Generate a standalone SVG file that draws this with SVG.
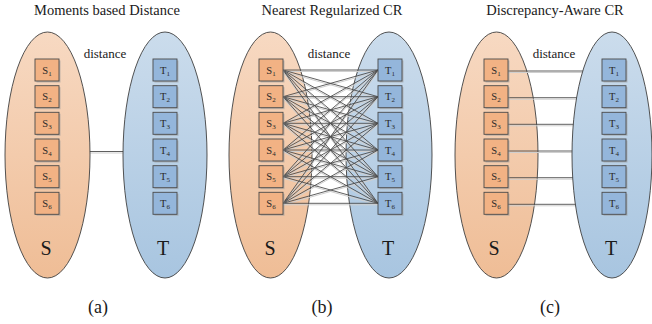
<svg xmlns="http://www.w3.org/2000/svg" width="652" height="324" viewBox="0 0 652 324">
<defs>
<linearGradient id="go" x1="0" y1="0" x2="0" y2="1"><stop offset="0" stop-color="#f7d9c2"/><stop offset="1" stop-color="#efbd96"/></linearGradient>
<linearGradient id="gb" x1="0" y1="0" x2="0" y2="1"><stop offset="0" stop-color="#cbdcec"/><stop offset="1" stop-color="#a8c5e0"/></linearGradient>
</defs>
<style>
.eo{fill:url(#go);stroke:#3f3f3f;stroke-width:0.9}
.eb{fill:url(#gb);stroke:#3f3f3f;stroke-width:0.9}
.bs{fill:#f2b284;stroke:#4a4a4a;stroke-width:0.9}
.bt{fill:#94b6db;stroke:#4a4a4a;stroke-width:0.9}
.shd{fill:#9a9a9a;opacity:0.55}
.ln{fill:none;stroke:#4d4d4d;stroke-width:0.9}
.sh{fill:none;stroke:#cfcfcf;stroke-width:1}
.tt{font-family:'Liberation Serif','DejaVu Serif',serif;fill:#1a1a1a;text-anchor:middle}
.ti{font-size:14.5px}
.di{font-size:13px}
.big{font-size:20px}
.cap{font-size:18px}
.bx{font-size:10.5px;fill:#2a2a2a}
.sb{font-size:7px}
</style>

<g font-family="Liberation Serif, DejaVu Serif, serif">
<text class="tt ti" x="107" y="14.5">Moments based Distance</text>
<text class="tt ti" x="332" y="14.5">Nearest Regularized CR</text>
<text class="tt ti" x="555" y="14.5">Discrepancy-Aware CR</text>

<g id="b-S"><ellipse class="eo" cx="270.5" cy="155" rx="41.5" ry="123"/><text class="tt big" x="270" y="255">S</text></g>
<g id="b-T"><ellipse class="eb" cx="389" cy="155" rx="43" ry="123"/><text class="tt big" x="388" y="255">T</text></g>
<g id="c-S"><ellipse class="eo" cx="496.5" cy="155" rx="41.5" ry="123"/><text class="tt big" x="494" y="255">S</text></g>

<g id="connectors">
<path class="sh" transform="translate(0,1.5)" d="M70 151.5L140 151.5"/>
<path class="ln" d="M70 151.5L140 151.5"/>
<g transform="translate(0,1.5)">
<path class="sh" d="M283 70L378 70M283 70L378 96.7M283 70L378 123.3M283 70L378 150M283 70L378 176.7M283 70L378 203.3"/>
<path class="sh" d="M283 96.7L378 70M283 96.7L378 96.7M283 96.7L378 123.3M283 96.7L378 150M283 96.7L378 176.7M283 96.7L378 203.3"/>
<path class="sh" d="M283 123.3L378 70M283 123.3L378 96.7M283 123.3L378 123.3M283 123.3L378 150M283 123.3L378 176.7M283 123.3L378 203.3"/>
<path class="sh" d="M283 150L378 70M283 150L378 96.7M283 150L378 123.3M283 150L378 150M283 150L378 176.7M283 150L378 203.3"/>
<path class="sh" d="M283 176.7L378 70M283 176.7L378 96.7M283 176.7L378 123.3M283 176.7L378 150M283 176.7L378 176.7M283 176.7L378 203.3"/>
<path class="sh" d="M283 203.3L378 70M283 203.3L378 96.7M283 203.3L378 123.3M283 203.3L378 150M283 203.3L378 176.7M283 203.3L378 203.3"/>
</g>
<path class="ln" d="M283 70L378 70M283 70L378 96.7M283 70L378 123.3M283 70L378 150M283 70L378 176.7M283 70L378 203.3"/>
<path class="ln" d="M283 96.7L378 70M283 96.7L378 96.7M283 96.7L378 123.3M283 96.7L378 150M283 96.7L378 176.7M283 96.7L378 203.3"/>
<path class="ln" d="M283 123.3L378 70M283 123.3L378 96.7M283 123.3L378 123.3M283 123.3L378 150M283 123.3L378 176.7M283 123.3L378 203.3"/>
<path class="ln" d="M283 150L378 70M283 150L378 96.7M283 150L378 123.3M283 150L378 150M283 150L378 176.7M283 150L378 203.3"/>
<path class="ln" d="M283 176.7L378 70M283 176.7L378 96.7M283 176.7L378 123.3M283 176.7L378 150M283 176.7L378 176.7M283 176.7L378 203.3"/>
<path class="ln" d="M283 203.3L378 70M283 203.3L378 96.7M283 203.3L378 123.3M283 203.3L378 150M283 203.3L378 176.7M283 203.3L378 203.3"/>
<path class="sh" transform="translate(0,1.5)" d="M508 71L600 71M508 97.7L600 97.7M508 124.3L600 124.3M508 151L600 151M508 177.7L600 177.7M508 204.3L600 204.3"/>
<path class="ln" d="M508 71L600 71M508 97.7L600 97.7M508 124.3L600 124.3M508 151L600 151M508 177.7L600 177.7M508 204.3L600 204.3"/>
</g>

<g id="a-S"><ellipse class="eo" cx="47.5" cy="155" rx="42.5" ry="123"/><text class="tt big" x="46" y="255">S</text></g>
<g id="a-T"><ellipse class="eb" cx="165" cy="155" rx="42" ry="123"/><text class="tt big" x="163" y="255">T</text></g>
<g id="c-T"><ellipse class="eb" cx="612" cy="155" rx="40" ry="123"/><text class="tt big" x="611" y="255">T</text></g>

<text class="tt di" x="105" y="58">distance</text>
<text class="tt di" x="329" y="58">distance</text>
<text class="tt di" x="554" y="58">distance</text>

<g id="a-S1"><rect class="shd" x="36.5" y="60.5" width="24" height="22"/><rect class="bs" x="35" y="59" width="24" height="22"/><text class="tt bx" x="47" y="73.5">S<tspan class="sb" dy="2">1</tspan></text></g>
<g id="a-S2"><rect class="shd" x="36.5" y="87.2" width="24" height="22"/><rect class="bs" x="35" y="85.7" width="24" height="22"/><text class="tt bx" x="47" y="100.2">S<tspan class="sb" dy="2">2</tspan></text></g>
<g id="a-S3"><rect class="shd" x="36.5" y="113.8" width="24" height="22"/><rect class="bs" x="35" y="112.3" width="24" height="22"/><text class="tt bx" x="47" y="126.8">S<tspan class="sb" dy="2">3</tspan></text></g>
<g id="a-S4"><rect class="shd" x="36.5" y="140.5" width="24" height="22"/><rect class="bs" x="35" y="139" width="24" height="22"/><text class="tt bx" x="47" y="153.5">S<tspan class="sb" dy="2">4</tspan></text></g>
<g id="a-S5"><rect class="shd" x="36.5" y="167.2" width="24" height="22"/><rect class="bs" x="35" y="165.7" width="24" height="22"/><text class="tt bx" x="47" y="180.2">S<tspan class="sb" dy="2">5</tspan></text></g>
<g id="a-S6"><rect class="shd" x="36.5" y="193.8" width="24" height="22"/><rect class="bs" x="35" y="192.3" width="24" height="22"/><text class="tt bx" x="47" y="206.8">S<tspan class="sb" dy="2">6</tspan></text></g>
<g id="a-T1"><rect class="shd" x="154.5" y="60.5" width="24" height="22"/><rect class="bt" x="153" y="59" width="24" height="22"/><text class="tt bx" x="165" y="73.5">T<tspan class="sb" dy="2">1</tspan></text></g>
<g id="a-T2"><rect class="shd" x="154.5" y="87.2" width="24" height="22"/><rect class="bt" x="153" y="85.7" width="24" height="22"/><text class="tt bx" x="165" y="100.2">T<tspan class="sb" dy="2">2</tspan></text></g>
<g id="a-T3"><rect class="shd" x="154.5" y="113.8" width="24" height="22"/><rect class="bt" x="153" y="112.3" width="24" height="22"/><text class="tt bx" x="165" y="126.8">T<tspan class="sb" dy="2">3</tspan></text></g>
<g id="a-T4"><rect class="shd" x="154.5" y="140.5" width="24" height="22"/><rect class="bt" x="153" y="139" width="24" height="22"/><text class="tt bx" x="165" y="153.5">T<tspan class="sb" dy="2">4</tspan></text></g>
<g id="a-T5"><rect class="shd" x="154.5" y="167.2" width="24" height="22"/><rect class="bt" x="153" y="165.7" width="24" height="22"/><text class="tt bx" x="165" y="180.2">T<tspan class="sb" dy="2">5</tspan></text></g>
<g id="a-T6"><rect class="shd" x="154.5" y="193.8" width="24" height="22"/><rect class="bt" x="153" y="192.3" width="24" height="22"/><text class="tt bx" x="165" y="206.8">T<tspan class="sb" dy="2">6</tspan></text></g>

<g id="b-S1"><rect class="shd" x="260.5" y="60.5" width="24" height="22"/><rect class="bs" x="259" y="59" width="24" height="22"/><text class="tt bx" x="271" y="73.5">S<tspan class="sb" dy="2">1</tspan></text></g>
<g id="b-S2"><rect class="shd" x="260.5" y="87.2" width="24" height="22"/><rect class="bs" x="259" y="85.7" width="24" height="22"/><text class="tt bx" x="271" y="100.2">S<tspan class="sb" dy="2">2</tspan></text></g>
<g id="b-S3"><rect class="shd" x="260.5" y="113.8" width="24" height="22"/><rect class="bs" x="259" y="112.3" width="24" height="22"/><text class="tt bx" x="271" y="126.8">S<tspan class="sb" dy="2">3</tspan></text></g>
<g id="b-S4"><rect class="shd" x="260.5" y="140.5" width="24" height="22"/><rect class="bs" x="259" y="139" width="24" height="22"/><text class="tt bx" x="271" y="153.5">S<tspan class="sb" dy="2">4</tspan></text></g>
<g id="b-S5"><rect class="shd" x="260.5" y="167.2" width="24" height="22"/><rect class="bs" x="259" y="165.7" width="24" height="22"/><text class="tt bx" x="271" y="180.2">S<tspan class="sb" dy="2">5</tspan></text></g>
<g id="b-S6"><rect class="shd" x="260.5" y="193.8" width="24" height="22"/><rect class="bs" x="259" y="192.3" width="24" height="22"/><text class="tt bx" x="271" y="206.8">S<tspan class="sb" dy="2">6</tspan></text></g>
<g id="b-T1"><rect class="shd" x="379.5" y="60.5" width="24" height="22"/><rect class="bt" x="378" y="59" width="24" height="22"/><text class="tt bx" x="390" y="73.5">T<tspan class="sb" dy="2">1</tspan></text></g>
<g id="b-T2"><rect class="shd" x="379.5" y="87.2" width="24" height="22"/><rect class="bt" x="378" y="85.7" width="24" height="22"/><text class="tt bx" x="390" y="100.2">T<tspan class="sb" dy="2">2</tspan></text></g>
<g id="b-T3"><rect class="shd" x="379.5" y="113.8" width="24" height="22"/><rect class="bt" x="378" y="112.3" width="24" height="22"/><text class="tt bx" x="390" y="126.8">T<tspan class="sb" dy="2">3</tspan></text></g>
<g id="b-T4"><rect class="shd" x="379.5" y="140.5" width="24" height="22"/><rect class="bt" x="378" y="139" width="24" height="22"/><text class="tt bx" x="390" y="153.5">T<tspan class="sb" dy="2">4</tspan></text></g>
<g id="b-T5"><rect class="shd" x="379.5" y="167.2" width="24" height="22"/><rect class="bt" x="378" y="165.7" width="24" height="22"/><text class="tt bx" x="390" y="180.2">T<tspan class="sb" dy="2">5</tspan></text></g>
<g id="b-T6"><rect class="shd" x="379.5" y="193.8" width="24" height="22"/><rect class="bt" x="378" y="192.3" width="24" height="22"/><text class="tt bx" x="390" y="206.8">T<tspan class="sb" dy="2">6</tspan></text></g>

<g id="c-S1"><rect class="shd" x="485.5" y="60.5" width="24" height="22"/><rect class="bs" x="484" y="59" width="24" height="22"/><text class="tt bx" x="496" y="73.5">S<tspan class="sb" dy="2">1</tspan></text></g>
<g id="c-S2"><rect class="shd" x="485.5" y="87.2" width="24" height="22"/><rect class="bs" x="484" y="85.7" width="24" height="22"/><text class="tt bx" x="496" y="100.2">S<tspan class="sb" dy="2">2</tspan></text></g>
<g id="c-S3"><rect class="shd" x="485.5" y="113.8" width="24" height="22"/><rect class="bs" x="484" y="112.3" width="24" height="22"/><text class="tt bx" x="496" y="126.8">S<tspan class="sb" dy="2">3</tspan></text></g>
<g id="c-S4"><rect class="shd" x="485.5" y="140.5" width="24" height="22"/><rect class="bs" x="484" y="139" width="24" height="22"/><text class="tt bx" x="496" y="153.5">S<tspan class="sb" dy="2">4</tspan></text></g>
<g id="c-S5"><rect class="shd" x="485.5" y="167.2" width="24" height="22"/><rect class="bs" x="484" y="165.7" width="24" height="22"/><text class="tt bx" x="496" y="180.2">S<tspan class="sb" dy="2">5</tspan></text></g>
<g id="c-S6"><rect class="shd" x="485.5" y="193.8" width="24" height="22"/><rect class="bs" x="484" y="192.3" width="24" height="22"/><text class="tt bx" x="496" y="206.8">S<tspan class="sb" dy="2">6</tspan></text></g>
<g id="c-T1"><rect class="shd" x="603.5" y="60.5" width="24" height="22"/><rect class="bt" x="602" y="59" width="24" height="22"/><text class="tt bx" x="614" y="73.5">T<tspan class="sb" dy="2">1</tspan></text></g>
<g id="c-T2"><rect class="shd" x="603.5" y="87.2" width="24" height="22"/><rect class="bt" x="602" y="85.7" width="24" height="22"/><text class="tt bx" x="614" y="100.2">T<tspan class="sb" dy="2">2</tspan></text></g>
<g id="c-T3"><rect class="shd" x="603.5" y="113.8" width="24" height="22"/><rect class="bt" x="602" y="112.3" width="24" height="22"/><text class="tt bx" x="614" y="126.8">T<tspan class="sb" dy="2">3</tspan></text></g>
<g id="c-T4"><rect class="shd" x="603.5" y="140.5" width="24" height="22"/><rect class="bt" x="602" y="139" width="24" height="22"/><text class="tt bx" x="614" y="153.5">T<tspan class="sb" dy="2">4</tspan></text></g>
<g id="c-T5"><rect class="shd" x="603.5" y="167.2" width="24" height="22"/><rect class="bt" x="602" y="165.7" width="24" height="22"/><text class="tt bx" x="614" y="180.2">T<tspan class="sb" dy="2">5</tspan></text></g>
<g id="c-T6"><rect class="shd" x="603.5" y="193.8" width="24" height="22"/><rect class="bt" x="602" y="192.3" width="24" height="22"/><text class="tt bx" x="614" y="206.8">T<tspan class="sb" dy="2">6</tspan></text></g>

<text class="tt cap" x="98" y="313">(a)</text>
<text class="tt cap" x="322" y="313">(b)</text>
<text class="tt cap" x="550" y="313">(c)</text>
</g>
</svg>
